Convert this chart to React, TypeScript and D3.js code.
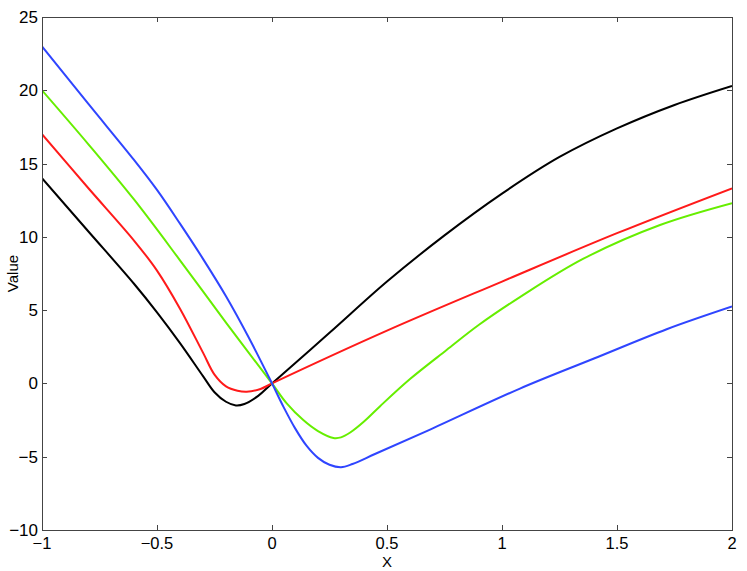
import React from "react";
import * as d3 from "d3";

const WIDTH = 747;
const HEIGHT = 571;

const xTicks = [-1, -0.5, 0, 0.5, 1, 1.5, 2];
const yTicks = [-10, -5, 0, 5, 10, 15, 20, 25];

const blackPts: [number, number][] = [
  [-1, 14], [-0.8, 10.4], [-0.6, 6.8], [-0.5, 4.85], [-0.4, 2.75], [-0.3, 0.5],
  [-0.25, -0.6], [-0.2, -1.25], [-0.157, -1.5], [-0.12, -1.4], [-0.06, -0.85],
  [0, 0], [0.25, 3.45], [0.5, 6.95], [0.75, 10.1], [1.0, 12.95], [1.25, 15.45],
  [1.5, 17.4], [1.75, 19.0], [2, 20.3],
];

const redPts: [number, number][] = [
  [-1, 17], [-0.8, 13.35], [-0.6, 9.75], [-0.5, 7.7], [-0.4, 5.1], [-0.3, 2.1],
  [-0.25, 0.6], [-0.2, -0.2], [-0.15, -0.5], [-0.11, -0.57], [-0.05, -0.38],
  [0, 0], [0.5, 3.6], [1.0, 6.95], [1.5, 10.25], [2, 13.31],
];

const greenPts: [number, number][] = [
  [-1, 20], [-0.8, 16.35], [-0.6, 12.55], [-0.4, 8.4], [-0.2, 4.15], [0, 0],
  [0.064, -1.36], [0.136, -2.5], [0.2, -3.25], [0.267, -3.72], [0.3, -3.68],
  [0.34, -3.35], [0.4, -2.6], [0.47, -1.55], [0.6, 0.3], [0.759, 2.28],
  [0.9, 4.0], [1.078, 5.89], [1.354, 8.51], [1.687, 10.81], [2, 12.3],
];

const bluePts: [number, number][] = [
  [-1, 23], [-0.8, 19.1], [-0.6, 15.25], [-0.5, 13.2], [-0.4, 10.9], [-0.3, 8.5],
  [-0.2, 5.95], [-0.1, 3.1], [0, 0], [0.05, -1.6], [0.1, -3.05], [0.15, -4.25],
  [0.2, -5.08], [0.25, -5.55], [0.3, -5.72], [0.35, -5.5], [0.45, -4.8],
  [0.68, -3.2], [1.078, -0.35], [1.4, 1.7], [1.716, 3.7], [2, 5.25],
];

const series = [
  { name: "black", color: "#000000", pts: blackPts },
  { name: "red", color: "#ff1a1a", pts: redPts },
  { name: "green", color: "#66ee00", pts: greenPts },
  { name: "blue", color: "#2f45ff", pts: bluePts },
];

const FONT = "'Liberation Sans', Arial, Helvetica, sans-serif";

const fmt = (v: number) => String(v).replace("-", "\u2212");

export default function App() {
  const left = 42, right = 732, top = 17, bottom = 530;
  const x = d3.scaleLinear().domain([-1, 2]).range([left, right]);
  const y = d3.scaleLinear().domain([-10, 25]).range([bottom, top]);
  const line = d3
    .line<[number, number]>()
    .x((d) => x(d[0]))
    .y((d) => y(d[1]))
    .curve(d3.curveCatmullRom.alpha(0.5));
  const tickLen = 5;
  const axisColor = "#444";

  return (
    <>
      <style>{"body{margin:0;overflow:hidden;background:#fff}"}</style>
      <svg width={WIDTH} height={HEIGHT} style={{ display: "block" }} fontFamily={FONT}>
        <rect x={0} y={0} width={WIDTH} height={HEIGHT} fill="#fff" />
        <defs>
          <clipPath id="plot">
            <rect x={left} y={top} width={right - left} height={bottom - top} />
          </clipPath>
        </defs>
        {xTicks.map((t) => (
          <g key={"xt" + t} stroke={axisColor} strokeWidth={1}>
            <line x1={Math.round(x(t)) + 0.5} x2={Math.round(x(t)) + 0.5} y1={bottom} y2={bottom - tickLen} />
            <line x1={Math.round(x(t)) + 0.5} x2={Math.round(x(t)) + 0.5} y1={top} y2={top + tickLen} />
          </g>
        ))}
        {yTicks.map((t) => (
          <g key={"yt" + t} stroke={axisColor} strokeWidth={1}>
            <line x1={left} x2={left + tickLen} y1={Math.round(y(t)) + 0.5} y2={Math.round(y(t)) + 0.5} />
            <line x1={right} x2={right - tickLen} y1={Math.round(y(t)) + 0.5} y2={Math.round(y(t)) + 0.5} />
          </g>
        ))}
        <g clipPath="url(#plot)">
          {series.map((s) => (
            <path key={s.name} d={line(s.pts) || ""} fill="none" stroke={s.color} strokeWidth={2} strokeLinejoin="round" />
          ))}
        </g>
        <rect x={left + 0.5} y={top + 0.5} width={right - left} height={bottom - top} fill="none" stroke={axisColor} strokeWidth={1} />
        {xTicks.map((t) => (
          <text key={"xl" + t} x={x(t)} y={549} textAnchor="middle" fontSize={16.5} fill="#000">
            {fmt(t)}
          </text>
        ))}
        {yTicks.map((t) => (
          <text key={"yl" + t} x={38} y={y(t)} dy="0.35em" textAnchor="end" fontSize={17} fill="#000">
            {fmt(t)}
          </text>
        ))}
        <text x={(left + right) / 2} y={567} textAnchor="middle" fontSize={15} fill="#000">X</text>
        <text
          transform={`translate(18,${(top + bottom) / 2}) rotate(-90)`}
          textAnchor="middle"
          fontSize={15}
          fill="#000"
        >
          Value
        </text>
      </svg>
    </>
  );
}
